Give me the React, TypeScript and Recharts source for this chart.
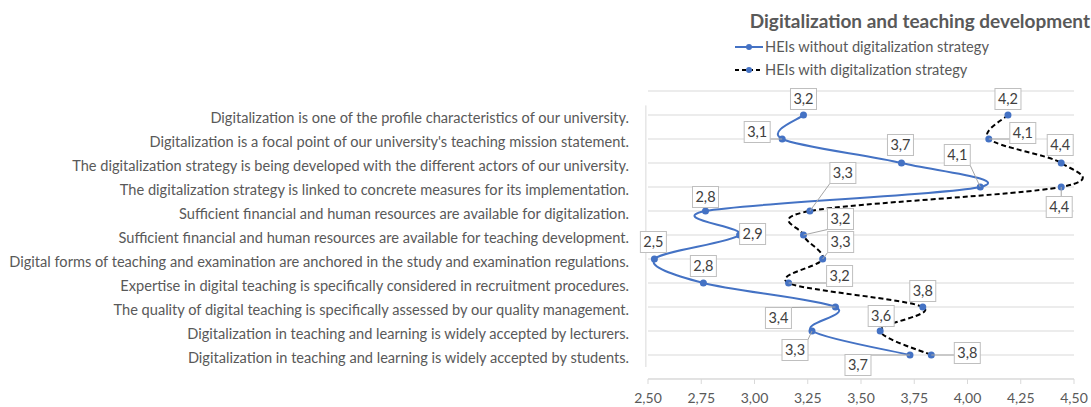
import React from 'react';
import {
  LineChart, Line, XAxis, YAxis, CartesianGrid, LabelList, Legend, ReferenceLine,
} from 'recharts';

const statements = [
  'Digitalization is one of the profile characteristics of our university.',
  "Digitalization is a focal point of our university's teaching mission statement.",
  'The digitalization strategy is being developed with the different actors of our university.',
  'The digitalization strategy is linked to concrete measures for its implementation.',
  'Sufficient financial and human resources are available for digitalization.',
  'Sufficient financial and human resources are available for teaching development.',
  'Digital forms of teaching and examination are anchored in the study and examination regulations.',
  'Expertise in  digital teaching is specifically considered in recruitment procedures.',
  'The quality of digital teaching is specifically assessed by our quality management.',
  'Digitalization in teaching and learning is widely accepted by lecturers.',
  'Digitalization in teaching and learning is widely accepted by students.',
];

const withoutStrategy = [3.23, 3.13, 3.69, 4.06, 2.77, 2.93, 2.53, 2.76, 3.38, 3.27, 3.73];
const withStrategy = [4.19, 4.1, 4.44, 4.44, 3.26, 3.23, 3.32, 3.16, 3.79, 3.59, 3.83];

const xTicks = [2.5, 2.75, 3, 3.25, 3.5, 3.75, 4, 4.25, 4.5];
const rowTicks = [0, 1, 2, 3, 4, 5, 6, 7, 8, 9, 10, 11, 12];

// where each data label box sits, relative to its point [dx, dy]
const labelPosWithout = [
  [0, -16], [-25, -7], [-1, -18], [-23, -32], [0, -14], [13, -1],
  [-1, -17], [0, -17], [-57, 11], [-17, 19], [-52, 10],
];
const labelPosWith = [
  [0, -16], [34, -6], [-1, -18], [-2, 20], [33, -38], [37, -16],
  [18, -17], [51, -7], [0, -16], [1, -15], [36, -2],
];

const data = statements.map((s, i) => ({
  idx: i + 1,
  statement: s,
  without: withoutStrategy[i],
  with: withStrategy[i],
}));

const BLUE = '#4472c4';
const GRID = '#d9d9d9';
const TEXT = '#595959';

// Excel-like smoothed line (Catmull-Rom through the points)
const excelSmooth = (context: any) => {
  let pts: number[][] = [];
  return {
    areaStart() {},
    areaEnd() {},
    lineStart() {
      pts = [];
    },
    point(x: number, y: number) {
      pts.push([+x, +y]);
    },
    lineEnd() {
      if (!pts.length) return;
      context.moveTo(pts[0][0], pts[0][1]);
      for (let i = 0; i < pts.length - 1; i++) {
        const p0 = pts[i - 1] || pts[i];
        const p1 = pts[i];
        const p2 = pts[i + 1];
        const p3 = pts[i + 2] || p2;
        context.bezierCurveTo(
          p1[0] + (p2[0] - p0[0]) / 6, p1[1] + (p2[1] - p0[1]) / 6,
          p2[0] - (p3[0] - p1[0]) / 6, p2[1] - (p3[1] - p1[1]) / 6,
          p2[0], p2[1],
        );
      }
    },
  };
};

const fmt = (v: number, d: number) => v.toFixed(d).replace('.', ',');

const makeLabel = (pos: number[][]) => (props: any) => {
  const { x, y, value, index } = props;
  const [dx, dy] = pos[index] || [0, -16];
  const w = 26;
  const h = 21;
  const cx = x + dx;
  const cy = y + dy;
  const ex = Math.min(Math.max(x, cx - w / 2), cx + w / 2);
  const ey = Math.min(Math.max(y, cy - h / 2), cy + h / 2);
  const far = Math.hypot(ex - x, ey - y) > 8;
  return (
    <g>
      {far && <line x1={ex} y1={ey} x2={x} y2={y} stroke="#a6a6a6" strokeWidth={1} />}
      <rect x={cx - w / 2} y={cy - h / 2} width={w} height={h} fill="#fff" stroke="#bfbfbf" />
      <text x={cx} y={cy} dy="0.35em" textAnchor="middle" fontSize={14.5} fill="#404040">
        {fmt(value, 1)}
      </text>
    </g>
  );
};

const StatementTick = (props: any) => {
  const { y, payload } = props;
  const label = statements[payload.value - 1];
  if (!label) return null;
  return (
    <text x={629} y={y + 3} dy="0.35em" textAnchor="end" fontSize={14.6} fill={TEXT}>
      {label}
    </text>
  );
};

const LegendBox = () => (
  <div style={{ fontSize: 14.6, color: TEXT, lineHeight: '23px' }}>
    <div style={{ display: 'flex', alignItems: 'center' }}>
      <svg width={32} height={10}>
        <line x1={2} y1={5} x2={30} y2={5} stroke={BLUE} strokeWidth={2} />
        <circle cx={16} cy={5} r={3} fill={BLUE} />
      </svg>
      <span>HEIs without digitalization strategy</span>
    </div>
    <div style={{ display: 'flex', alignItems: 'center' }}>
      <svg width={32} height={10}>
        <line x1={2} y1={5} x2={30} y2={5} stroke="#000" strokeWidth={2} strokeDasharray="4 3" />
        <circle cx={16} cy={5} r={3} fill={BLUE} />
      </svg>
      <span>HEIs with digitalization strategy</span>
    </div>
  </div>
);

export default function App() {
  return (
    <div style={{ position: 'absolute', left: 0, top: 0, width: 1091, height: 407, fontFamily: 'Lato, sans-serif', background: '#fff' }}>
      <div style={{ position: 'absolute', right: 1, top: 9, fontSize: 19, fontWeight: 'bold', color: TEXT }}>
        Digitalization and teaching development
      </div>
      <LineChart
        width={1091}
        height={407}
        data={data}
        layout="vertical"
        margin={{ top: 91, right: 17, bottom: 0, left: 0 }}
      >
        <CartesianGrid horizontal vertical={false} stroke={GRID} />
        <XAxis
          type="number"
          domain={[2.5, 4.5]}
          ticks={xTicks}
          tickFormatter={(v: number) => fmt(v, 2)}
          height={28}
          tickSize={5}
          tickMargin={9}
          axisLine={{ stroke: GRID }}
          tickLine={{ stroke: GRID }}
          tick={{ fontSize: 14, fill: TEXT }}
        />
        <YAxis
          type="number"
          dataKey="idx"
          domain={[0, 12]}
          ticks={rowTicks}
          width={648}
          axisLine={false}
          tickLine={false}
          tick={<StatementTick />}
        />
        <ReferenceLine
          segment={[{ x: 2.49, y: 0.6 }, { x: 2.49, y: 11.5 }]}
          stroke={GRID}
          ifOverflow="visible"
        />
        <Legend
          layout="horizontal"
          verticalAlign="middle"
          align="center"
          content={<LegendBox />}
          wrapperStyle={{ left: 733, top: 35, width: 320 }}
        />
        <Line
          dataKey="without"
          name="HEIs without digitalization strategy"
          type={excelSmooth as any}
          stroke={BLUE}
          strokeWidth={2}
          dot={{ r: 3.5, fill: BLUE, stroke: BLUE, strokeWidth: 0 }}
          activeDot={false}
          isAnimationActive={false}
        >
          <LabelList dataKey="without" content={makeLabel(labelPosWithout)} />
        </Line>
        <Line
          dataKey="with"
          name="HEIs with digitalization strategy"
          type={excelSmooth as any}
          stroke="#000"
          strokeWidth={2}
          strokeDasharray="5 3"
          dot={{ r: 3.5, fill: BLUE, stroke: BLUE, strokeWidth: 0, strokeDasharray: '' }}
          activeDot={false}
          isAnimationActive={false}
        >
          <LabelList dataKey="with" content={makeLabel(labelPosWith)} />
        </Line>
      </LineChart>
    </div>
  );
}
